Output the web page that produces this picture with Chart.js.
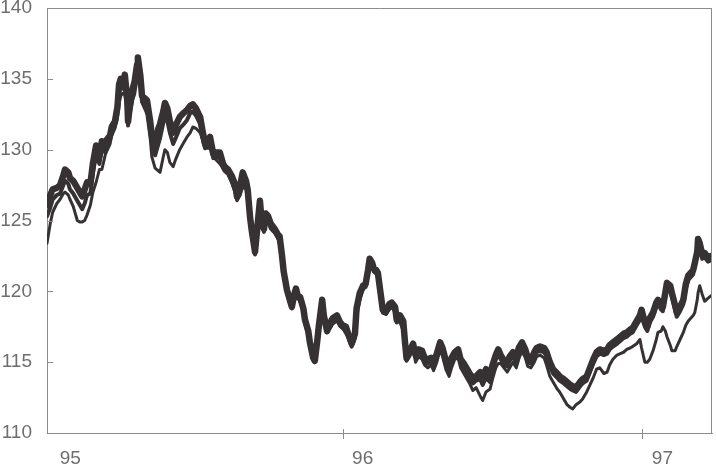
<!DOCTYPE html>
<html>
<head>
<meta charset="utf-8">
<script src="https://cdn.jsdelivr.net/npm/chart.js@4/dist/chart.umd.min.js"></script>
<style>
  html, body { margin: 0; padding: 0; background: #ffffff; }
  #wrap { width: 716px; height: 466px; position: relative; }
</style>
</head>
<body>
<div id="wrap"><canvas id="c" width="716" height="466"></canvas></div>
<script>
// Days since 1 Jan 1995
const days = [4,8,11,16,20,24,26,30,32,36,41,44,47,50,53,57,60,64,68,71,75,77,81,83,87,90,92,94,97,99,102,103,105,109,111,114,115,118,120,124,126,130,132,136,140,142,146,148,151,154,158,161,166,171,175,179,182,186,191,194,197,201,203,207,210,215,219,221,225,230,234,236,240,243,247,249,252,254,258,260,264,266,269,271,274,277,282,286,288,291,293,297,301,303,306,308,310,313,317,319,323,325,329,331,334,336,340,342,346,350,353,358,362,365,369,373,376,380,382,386,390,393,396,398,401,403,406,408,411,414,418,422,425,429,431,435,439,441,443,447,451,454,458,462,465,469,473,476,480,484,487,491,495,498,502,506,509,513,517,520,524,528,533,536,540,545,548,552,555,558,562,566,569,573,577,580,584,588,591,595,599,602,606,611,614,618,622,627,630,635,639,643,646,650,655,658,663,667,671,675,679,684,688,691,695,700,704,708,712,716,719,724,728,730,734,737,740,744,748,750,754,756,759,761,765,767,771,773,777,781,784,787,790,793,795,798,799,801,804,807,811,815];

const seriesA = [126.1,126.8,127.2,127.3,127.5,128.2,128.6,128.4,128.0,127.8,127.3,127.0,126.7,127.2,127.7,127.6,129.0,130.3,129.5,130.6,130.2,130.7,131.0,131.6,132.0,133.0,134.6,135.0,134.6,135.3,133.5,132.0,133.0,134.4,134.8,136.0,136.5,135.2,133.8,133.6,133.5,132.0,131.0,130.2,131.5,131.8,132.7,133.3,132.9,132.0,131.2,131.7,132.3,132.6,132.8,133.1,133.2,132.9,132.3,131.3,130.4,130.7,130.9,129.7,129.8,129.8,129.0,128.8,128.6,128.1,127.5,126.7,127.5,128.4,127.8,127.2,125.2,124.3,122.8,124.0,126.4,125.0,124.4,125.5,125.3,124.8,124.4,124.0,123.9,122.5,121.4,120.1,119.3,118.9,119.8,120.2,119.7,119.6,118.8,118.0,117.2,116.4,115.3,115.1,116.5,117.6,119.4,118.3,117.2,117.8,118.1,118.3,117.8,117.6,117.5,116.8,116.3,117.0,118.8,119.9,120.4,120.5,121.5,122.3,122.0,121.6,121.5,121.3,120.0,118.7,118.6,119.1,119.2,118.9,118.0,118.3,117.9,116.5,115.3,115.8,116.3,115.5,115.9,115.8,115.3,115.2,115.3,115.0,115.6,116.4,116.0,115.1,114.7,115.3,115.7,115.9,115.2,114.9,114.5,114.2,113.9,114.0,114.3,114.0,114.5,114.0,114.8,115.5,115.9,115.5,115.1,115.0,115.4,115.7,115.3,116.0,116.4,115.9,115.3,115.2,115.7,116.0,116.1,116.0,115.7,115.0,114.5,114.2,114.0,113.8,113.6,113.4,113.3,113.2,113.6,113.8,114.0,114.6,115.2,115.7,115.9,115.8,115.9,116.2,116.4,116.6,116.8,117.0,117.1,117.3,117.4,117.9,118.3,118.7,117.8,117.5,118.1,118.5,119.2,119.4,119.0,118.9,119.9,120.6,120.4,119.9,119.0,118.5,118.9,119.4,120.5,121.1,121.3,121.5,122.0,122.8,123.7,123.4,122.6,122.7,122.4,122.5];

const seriesB = [125.3,125.9,126.5,126.8,126.9,127.5,127.8,127.6,127.2,126.9,126.4,126.1,125.8,126.2,126.8,126.9,128.3,129.7,129.0,130.1,129.8,130.3,130.7,131.2,131.7,132.7,134.3,134.6,134.3,134.9,133.1,131.7,132.8,134.0,134.4,135.6,136.0,134.8,133.4,133.2,133.0,131.5,130.5,129.6,130.4,130.8,131.9,132.3,132.0,131.2,130.4,130.8,131.5,131.8,132.1,132.6,132.7,132.4,131.8,130.8,130.1,130.4,130.5,129.4,129.5,129.4,128.7,128.5,128.3,127.7,127.1,126.5,127.2,128.1,127.5,126.9,124.9,124.0,122.6,123.8,126.1,124.8,124.2,125.3,125.0,124.6,124.2,123.8,123.6,122.3,121.2,119.9,119.1,118.8,119.6,120.0,119.5,119.4,118.6,117.8,117.0,116.2,115.2,115.0,116.3,117.4,119.2,118.1,117.1,117.6,117.9,118.1,117.6,117.4,117.3,116.6,116.1,116.8,118.6,119.7,120.2,120.3,121.3,122.1,121.8,121.4,121.3,121.1,119.8,118.5,118.4,118.9,119.0,118.7,117.8,118.1,117.6,116.2,115.1,115.6,116.1,115.3,115.7,115.5,115.0,114.9,115.1,114.7,115.3,116.2,115.7,114.8,114.4,115.0,115.5,115.6,114.9,114.6,114.2,113.9,113.5,113.7,113.8,113.4,113.9,113.6,114.4,115.2,115.6,115.2,114.8,114.7,115.1,115.4,115.0,115.7,116.1,115.6,115.0,114.9,115.4,115.7,115.8,115.7,115.4,114.7,114.2,113.9,113.7,113.5,113.3,113.1,113.0,112.9,113.3,113.5,113.7,114.3,114.9,115.4,115.6,115.5,115.6,115.9,116.1,116.3,116.5,116.7,116.8,117.0,117.1,117.6,118.0,118.4,117.5,117.2,117.8,118.2,118.9,119.1,118.7,118.6,119.6,120.3,120.1,119.6,118.7,118.2,118.6,119.1,120.2,120.8,121.0,121.2,121.8,122.6,123.5,123.1,122.3,122.4,122.1,122.2];

const seriesC = [123.4,124.8,125.6,126.2,126.5,126.9,127.0,126.8,126.5,126.0,125.0,124.9,124.9,125.0,125.4,126.1,127.0,127.7,128.6,128.6,129.6,129.9,130.4,131.0,131.5,132.2,133.3,133.8,134.0,133.9,132.8,132.1,132.4,133.6,133.9,135.0,135.5,134.5,133.3,132.8,132.5,130.8,129.5,128.7,128.5,128.4,129.5,130.0,129.8,129.1,128.8,129.3,130.0,130.5,130.9,131.2,131.6,131.5,131.2,130.7,130.1,130.1,130.2,129.5,129.3,129.0,128.7,128.5,128.3,127.6,126.9,126.4,126.8,127.4,127.2,126.4,125.0,123.7,122.9,123.6,125.8,124.9,124.6,125.0,124.8,124.4,124.1,123.7,123.3,122.6,121.2,120.0,119.1,119.2,119.6,119.9,119.6,119.4,118.6,118.0,117.0,116.4,115.3,115.2,116.0,117.3,119.0,118.1,117.3,117.4,117.7,117.9,117.5,117.4,117.0,116.6,116.1,116.6,118.2,119.4,120.1,120.8,121.4,122.0,121.7,121.4,121.2,120.9,120.2,118.6,118.4,118.7,118.9,118.5,117.9,117.8,117.2,116.0,115.1,115.4,116.0,115.0,115.4,115.2,114.8,114.6,114.8,114.4,115.0,115.9,115.4,114.5,114.0,114.6,115.2,115.3,114.6,114.2,113.8,113.5,113.0,113.2,112.6,112.3,112.9,113.1,113.8,114.6,114.9,114.9,114.6,114.3,114.6,115.0,114.6,115.2,115.8,115.3,114.7,114.6,115.0,115.4,115.5,115.3,114.8,114.0,113.6,113.1,112.9,112.4,112.0,111.8,111.7,112.0,112.2,112.4,112.9,113.4,113.9,114.5,114.6,114.2,114.3,114.8,115.2,115.5,115.6,115.7,115.9,116.0,116.1,116.3,116.6,116.0,115.0,115.0,115.2,115.8,116.6,117.1,117.2,117.5,117.2,116.8,116.2,115.8,115.8,116.1,116.6,117.1,117.6,117.9,118.1,118.3,118.5,119.4,119.9,120.4,119.8,119.3,119.5,119.7];

const xTickDays = [8, 365, 731];
const xTickLabels = ['95', '96', '97'];
const yMin = 110, yMax = 140, yStep = 5;

const lineColor = '#363233';
const axisColor = '#8c8c8c';
const textColor = '#6e6e6e';
const tickFont = { family: "'Liberation Sans', Arial, sans-serif", size: 19, lineHeight: 0.8 };

function pts(vals) { return vals.map((v, i) => ({ x: days[i], y: v })); }

const framePlugin = {
  id: 'frame',
  afterDraw(chart) {
    const { ctx, chartArea: { left, right, top, bottom }, scales: { x, y } } = chart;
    ctx.save();
    ctx.strokeStyle = axisColor;
    ctx.lineWidth = 1;
    ctx.beginPath();
    ctx.moveTo(left, top + 0.5); ctx.lineTo(right, top + 0.5);
    ctx.moveTo(right - 0.5, top); ctx.lineTo(right - 0.5, bottom);
    y.ticks.forEach(t => {
      const py = Math.round(y.getPixelForValue(t.value)) + 0.5;
      ctx.moveTo(left, py); ctx.lineTo(left + 6, py);
    });
    x.ticks.forEach((t, i) => {
      if (i === 0) return;
      const px = Math.round(x.getPixelForValue(t.value)) + 0.5;
      ctx.moveTo(px, bottom - 4); ctx.lineTo(px, bottom + 6);
    });
    ctx.stroke();
    ctx.restore();
  }
};

new Chart(document.getElementById('c'), {
  type: 'line',
  data: {
    datasets: [
      { label: 'A', data: pts(seriesA), borderColor: lineColor, borderWidth: 6.5 },
      { label: 'B', data: pts(seriesB), borderColor: lineColor, borderWidth: 4 },
      { label: 'C', data: pts(seriesC), borderColor: lineColor, borderWidth: 3 }
    ]
  },
  options: {
    responsive: false,
    animation: false,
    events: [],
    layout: { padding: { top: 8, right: 4, left: 0, bottom: 0 } },
    elements: {
      point: { radius: 0 },
      line: { tension: 0, borderJoinStyle: 'round', borderCapStyle: 'round', fill: false }
    },
    plugins: { legend: { display: false }, tooltip: { enabled: false } },
    scales: {
      x: {
        type: 'linear',
        min: 4,
        max: 816,
        afterBuildTicks: s => { s.ticks = xTickDays.map(v => ({ value: v })); },
        afterFit: s => { s.height = 33; },
        ticks: {
          callback: (v, i) => xTickLabels[i],
          labelOffset: 20,
          padding: 18,
          autoSkip: false,
          maxRotation: 0,
          font: tickFont,
          color: textColor
        },
        grid: { display: false, drawTicks: false },
        border: { display: true, color: axisColor, width: 1 }
      },
      y: {
        min: yMin,
        max: yMax,
        afterFit: s => { s.width = 47; },
        ticks: { stepSize: yStep, padding: 0, font: tickFont, color: textColor },
        grid: { display: false, drawTicks: true, tickLength: 15 },
        border: { display: true, color: axisColor, width: 1 }
      }
    }
  },
  plugins: [framePlugin]
});
</script>
</body>
</html>
